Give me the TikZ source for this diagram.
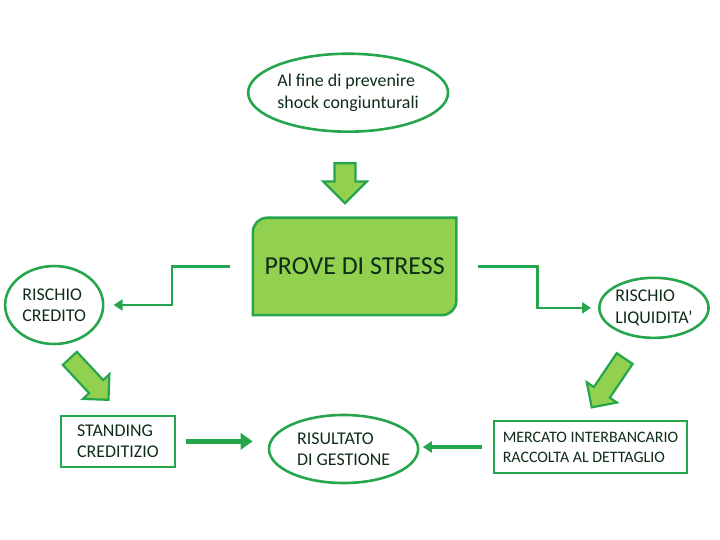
\documentclass[tikz,border=0pt]{standalone}
\usepackage{fontspec}
\setmainfont{Carlito}
\usepackage{xcolor}
\usepackage{tikz}
\usetikzlibrary{shapes.geometric,shapes.arrows,arrows.meta,backgrounds}
\definecolor{leafgreen}{RGB}{146,208,80}
\definecolor{edgegreen}{RGB}{38,166,76}
\definecolor{inkgreen}{RGB}{14,44,24}

\begin{document}
\begin{tikzpicture}[
    bubble/.style={ellipse, draw=edgegreen, line width=2.6pt, inner sep=0pt, align=left, text=inkgreen, font=\fontsize{18}{21.5}\selectfont},
    framebox/.style={rectangle, draw=edgegreen, line width=2.6pt, inner sep=0pt, align=left, text=inkgreen, font=\fontsize{18}{21.5}\selectfont},
    bigarrow/.style={single arrow, draw=edgegreen, fill=leafgreen, line width=2.2pt, inner xsep=0pt, single arrow head extend=#1},
    link/.style={draw=edgegreen, line width=2.6pt, -{Triangle[length=9pt,width=11pt]}},
    fatlink/.style={draw=edgegreen, line width=4.6pt, -{Triangle[length=12pt,width=16pt]}}
]
    \useasboundingbox (0,0) rectangle (25.4,19.05);

    % aim and stress test
    \node[bubble, minimum width=6.7cm, minimum height=2.75cm] (aim) at (12.28,15.78) {Al fine di prevenire\\shock congiunturali};
    \node[bigarrow=0.4cm, inner ysep=0.33cm, rotate=-90, minimum height=1.41cm] (down) at (12.17,12.77) {};
    \node[minimum width=7.16cm, minimum height=3.42cm, inner sep=0pt, text=inkgreen, font=\fontsize{26}{30}\selectfont] (prove) at (12.51,9.65) {PROVE DI STRESS};
    \begin{scope}[on background layer]
    \filldraw[draw=edgegreen, fill=leafgreen, line width=2.6pt] (prove.south west) -- ([yshift=-0.5cm]prove.north west) arc[start angle=180, end angle=90, radius=0.5cm] -- (prove.north east) -- ([yshift=0.5cm]prove.south east) arc[start angle=0, end angle=-90, radius=0.5cm] -- cycle;
    \end{scope}

    % the two risks
    \node[bubble, minimum width=3.46cm, minimum height=2.75cm] (credito) at (1.91,8.29) {RISCHIO\\CREDITO};
    \node[bubble, minimum width=3.53cm, minimum height=2.12cm] (liquidita) at (23.07,8.19) {RISCHIO\\LIQUIDITA'};
    \draw[link, shorten <=0.81cm, shorten >=0.32cm] (prove.west) -- ++(-2.86,0) |- (credito.east);
    \draw[link, shorten <=0.78cm, shorten >=0.25cm] (prove.east) -- ++(2.86,0) |- (liquidita.west);

    \node[bigarrow=0.3cm, inner ysep=0.3cm, rotate=-47, minimum height=2.0cm] (leftdiag) at (3.03,5.8) {};
    \node[bigarrow=0.3cm, inner ysep=0.3cm, rotate=-124, minimum height=2.08cm] (rightdiag) at (21.55,5.68) {};

    % bottom row
    \node[framebox, minimum width=4.02cm, minimum height=1.8cm] (standing) at (4.16,3.48) {STANDING\\CREDITIZIO};
    \node[bubble, minimum width=5.26cm, minimum height=2.4cm] (risultato) at (12.12,3.21) {RISULTATO\\DI GESTIONE};
    \node[framebox, minimum width=6.81cm, minimum height=1.83cm, font=\fontsize{16}{20}\selectfont] (mercato) at (20.83,3.28) {MERCATO INTERBANCARIO\\RACCOLTA AL DETTAGLIO};
    \draw[fatlink, shorten <=0.35cm, shorten >=0.53cm] (standing.east) -- (standing.east -| risultato.west);
    \draw[link, line width=3.6pt, shorten <=0.39cm, shorten >=0.12cm] (mercato.west) -- (mercato.west -| risultato.east);

\end{tikzpicture}
\end{document}
